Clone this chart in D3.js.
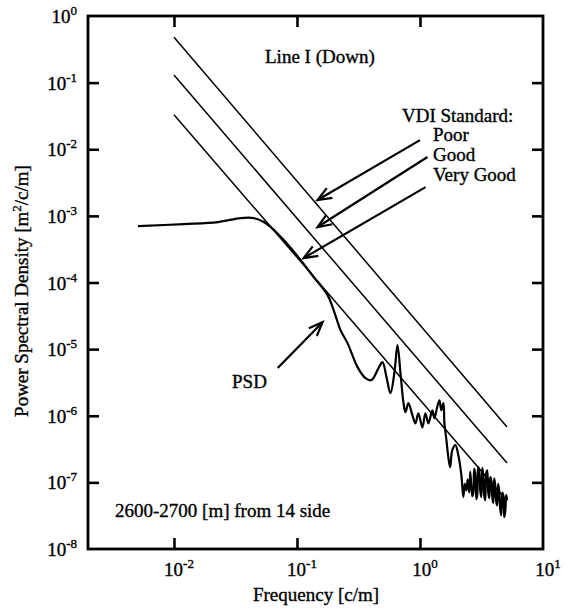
<!DOCTYPE html>
<html><head><meta charset="utf-8">
<script src="https://cdn.jsdelivr.net/npm/d3@7"></script>
<style>
html,body{margin:0;padding:0;background:#fff;}
svg{display:block;}
text{font-family:"Liberation Serif","Times New Roman",serif;fill:#000;stroke:#000;stroke-width:0.35px;}
</style></head>
<body>
<svg id="chart" width="569" height="609"></svg>
<script>
// ---- data ----
const xDecades = [0.01, 0.1, 1, 10];
const xTickExp = ["-2", "-1", "0", "1"];
const yDecades = [1, 0.1, 0.01, 1e-3, 1e-4, 1e-5, 1e-6, 1e-7, 1e-8];
const yTickExp = ["0", "-1", "-2", "-3", "-4", "-5", "-6", "-7", "-8"];

const vdiNames = ["Poor", "Good", "Very Good"];
const vdiFreq = [0.01, 5.1];
const vdiPoor = [0.48, 6.8e-7];
const vdiGood = [0.13, 1.95e-7];
const vdiVeryGood = [0.033, 5.3e-8];

const psdFreq = [0.0051, 0.01205, 0.0228, 0.0349, 0.0446, 0.0537, 0.0612, 0.078, 0.1072, 0.1365,
  0.1774, 0.1986, 0.226, 0.2576, 0.3105, 0.3605, 0.4036, 0.460, 0.4955, 0.534,
  0.575, 0.620, 0.656, 0.694, 0.733, 0.762, 0.805, 0.867, 0.918, 0.970,
  1.046, 1.106, 1.17, 1.26, 1.31, 1.38, 1.44, 1.49, 1.55, 1.58,
  1.64, 1.70, 1.76, 1.83, 1.94, 2.05, 2.17, 2.25, 2.31, 2.38,
  2.44, 2.51, 2.56, 2.61, 2.66, 2.71, 2.76, 2.81, 2.87, 2.92,
  2.97, 3.03, 3.09, 3.15, 3.21, 3.27, 3.33, 3.39, 3.45, 3.52,
  3.59, 3.66, 3.73, 3.80, 3.87, 3.94, 4.01, 4.09, 4.16, 4.24,
  4.32, 4.40, 4.48, 4.57, 4.66, 4.75, 4.84, 4.93, 5.02, 5.11];
const psdValue = [7.03e-4, 7.53e-4, 8.07e-4, 9.27e-4, 9.27e-4, 8.07e-4, 6.79e-4, 4.33e-4, 2.17e-4, 1.21e-4,
  6.47e-5, 3.85e-5, 1.93e-5, 1.23e-5, 5.37e-6, 3.67e-6, 3.43e-6, 5.19e-6, 6.38e-6, 3.80e-6,
  2.18e-6, 4.52e-6, 1.15e-5, 4.36e-6, 1.60e-6, 1.13e-6, 1.55e-6, 1.02e-6, 7.7e-7, 1.09e-6,
  6.7e-7, 1.09e-6, 7.7e-7, 1.21e-6, 9.2e-7, 1.35e-6, 1.71e-6, 1.21e-6, 1.55e-6, 7.7e-7,
  4.3e-7, 2.39e-7, 1.69e-7, 3.04e-7, 3.62e-7, 2.56e-7, 1.28e-7, 6.0e-8, 9.5e-8, 7.6e-8,
  1.1e-7, 7.1e-8, 1.45e-7, 9.1e-8, 6.2e-8, 7.1e-8, 1.6e-7, 1.37e-7, 5.6e-8, 6.4e-8,
  1.7e-7, 1.52e-7, 7.5e-8, 6.0e-8, 1.65e-7, 1.28e-7, 6.3e-8, 5.4e-8, 1.35e-7, 1.52e-7,
  7.0e-8, 5.8e-8, 1.2e-7, 1.08e-7, 6.0e-8, 4.9e-8, 1.15e-7, 9.1e-8, 5.2e-8, 4.5e-8,
  9.5e-8, 7.6e-8, 4.2e-8, 3.2e-8, 7.0e-8, 6.4e-8, 3.0e-8, 3.6e-8, 6.5e-8, 5.4e-8];

// annotations (data space): [fromFreq, fromPSD] -> [toFreq, toPSD]
const arrowFrom = [[1.0, 0.0137], [1.15, 0.00764], [1.11, 0.0027], [0.0697, 5.19e-6]];
const arrowTo = [[0.147, 0.00173], [0.147, 6.8e-4], [0.113, 2.32e-4], [0.1614, 2.54e-5]];

// ---- layout ----
const svg = d3.select("#chart");
const L = 88, R = 543, T = 16, B = 549;
const x = d3.scaleLog().domain([0.002, 10]).range([L, R]);
const y = d3.scaleLog().domain([1e-8, 1]).range([B, T]);

const g = svg.append("g");

// VDI lines
const vdiSeries = [vdiPoor, vdiGood, vdiVeryGood];
const line = d3.line().x(d => x(d[0])).y(d => y(d[1]));
vdiSeries.forEach((vals, i) => {
  g.append("path")
    .datum(vdiFreq.map((f, j) => [f, vals[j]]))
    .attr("d", line)
    .attr("fill", "none").attr("stroke", "#000").attr("stroke-width", 1.5)
    .attr("class", "vdi-" + i);
});

// PSD curve
g.append("path")
  .datum(psdFreq.map((f, i) => [f, psdValue[i]]))
  .attr("d", d3.line().x(d => x(d[0])).y(d => y(d[1])).curve(d3.curveCatmullRom.alpha(0.5)))
  .attr("fill", "none").attr("stroke", "#000").attr("stroke-width", 2.2)
  .attr("stroke-linejoin", "round");

// Arrows
arrowFrom.forEach((a, i) => {
  const x1 = x(a[0]), y1 = y(a[1]), x2 = x(arrowTo[i][0]), y2 = y(arrowTo[i][1]);
  const ang = Math.atan2(y2 - y1, x2 - x1);
  const hl = 15, ha = 0.38;
  g.append("line").attr("x1", x1).attr("y1", y1).attr("x2", x2).attr("y2", y2)
    .attr("stroke", "#000").attr("stroke-width", 2.2);
  const p = [[x2 - hl * Math.cos(ang - ha), y2 - hl * Math.sin(ang - ha)], [x2, y2],
             [x2 - hl * Math.cos(ang + ha), y2 - hl * Math.sin(ang + ha)]];
  g.append("path").attr("d", d3.line()(p)).attr("fill", "none")
    .attr("stroke", "#000").attr("stroke-width", 2.2).attr("stroke-linejoin", "miter");
});

// Frame
g.append("rect").attr("x", L).attr("y", T).attr("width", R - L).attr("height", B - T)
  .attr("fill", "none").attr("stroke", "#000").attr("stroke-width", 2.8);

// Axes ticks (inward) on all four sides
const tickLen = 11;
g.append("g").attr("transform", `translate(0,${B})`)
  .call(d3.axisBottom(x).tickValues(xDecades.slice(0, 3)).tickSize(-tickLen).tickFormat(""))
  .call(s => s.select(".domain").remove());
g.append("g").attr("transform", `translate(0,${T})`)
  .call(d3.axisTop(x).tickValues(xDecades.slice(0, 3)).tickSize(-tickLen).tickFormat(""))
  .call(s => s.select(".domain").remove());
g.append("g").attr("transform", `translate(${L},0)`)
  .call(d3.axisLeft(y).tickValues(yDecades.slice(1, 8)).tickSize(-tickLen).tickFormat(""))
  .call(s => s.select(".domain").remove());
g.append("g").attr("transform", `translate(${R},0)`)
  .call(d3.axisRight(y).tickValues(yDecades.slice(1, 8)).tickSize(-tickLen).tickFormat(""))
  .call(s => s.select(".domain").remove());
g.selectAll(".tick line").attr("stroke", "#000").attr("stroke-width", 2.6);

// Tick labels
const fs = 19;
yDecades.forEach((v, i) => {
  const t = svg.append("text").attr("x", 77).attr("y", y(v) + 7)
    .attr("text-anchor", "end").attr("font-size", fs);
  t.append("tspan").text("10");
  t.append("tspan").attr("dy", -8).attr("font-size", 13).text(yTickExp[i]);
});
xDecades.forEach((v, i) => {
  const t = svg.append("text").attr("x", x(v) + 5).attr("y", 576)
    .attr("text-anchor", "middle").attr("font-size", fs);
  t.append("tspan").text("10");
  t.append("tspan").attr("dy", -8).attr("font-size", 13).text(xTickExp[i]);
});

// Axis titles
svg.append("text").attr("x", 316).attr("y", 601).attr("text-anchor", "middle")
  .attr("font-size", fs).text("Frequency [c/m]");
const yt = svg.append("text").attr("transform", "translate(28,291) rotate(-90)")
  .attr("text-anchor", "middle").attr("font-size", fs);
yt.append("tspan").text("Power Spectral Density [m");
yt.append("tspan").attr("dy", -7).attr("font-size", 13).text("2");
yt.append("tspan").attr("dy", 7).text("/c/m]");

// Annotations text
svg.append("text").attr("x", 265).attr("y", 63).attr("font-size", fs).text("Line I (Down)");
svg.append("text").attr("x", 402).attr("y", 122).attr("font-size", fs).text("VDI Standard:");
vdiNames.forEach((n, i) => {
  svg.append("text").attr("x", 433).attr("y", 141 + i * 20).attr("font-size", fs).text(n);
});
svg.append("text").attr("x", 232).attr("y", 388).attr("font-size", fs).text("PSD");
svg.append("text").attr("x", 115).attr("y", 517).attr("font-size", fs).text("2600-2700 [m] from 14 side");
</script>
</body></html>
